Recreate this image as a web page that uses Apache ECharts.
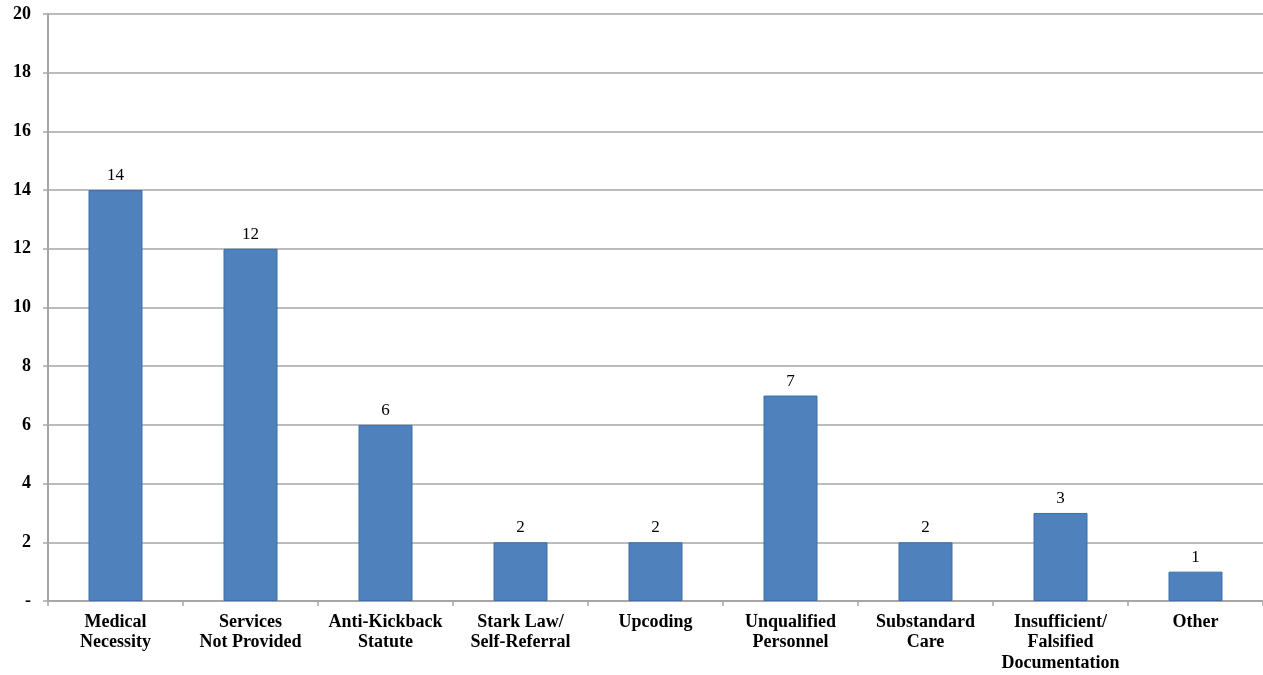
<!DOCTYPE html>
<html><head><meta charset="utf-8">
<script src="https://cdn.jsdelivr.net/npm/echarts@6/dist/echarts.min.js"></script>
<style>html,body{margin:0;padding:0;background:#fff}#c{width:1263px;height:675px}</style>
</head><body><div id="c"></div>
<script>
const categories = ["Medical\nNecessity","Services\nNot Provided","Anti-Kickback\nStatute","Stark Law/\nSelf-Referral","Upcoding","Unqualified\nPersonnel","Substandard\nCare","Insufficient/\nFalsified\nDocumentation","Other"];
const values = [14, 12, 6, 2, 2, 7, 2, 3, 1];
const chart = echarts.init(document.getElementById('c'));
const font = '"Liberation Serif", "Times New Roman", serif';
chart.setOption({
  animation: false,
  grid: {left: 48, right: 0, top: 14, bottom: 74, containLabel: false},
  xAxis: {
    type: 'category', data: categories,
    axisLine: {lineStyle: {color: '#a6a6a6', width: 2}},
    axisTick: {show: true, length: 5, lineStyle: {color: '#a6a6a6', width: 1.5}},
    axisLabel: {interval: 0, fontFamily: font, fontWeight: 'bold', fontSize: 18, color: '#000', lineHeight: 20.5, margin: 11}
  },
  yAxis: {
    type: 'value', min: 0, max: 20, interval: 2,
    axisLine: {show: true, lineStyle: {color: '#a6a6a6', width: 2}},
    axisTick: {show: true, length: 5, lineStyle: {color: '#a6a6a6', width: 1.5}},
    splitLine: {lineStyle: {color: '#a6a6a6', width: 1.5}},
    axisLabel: {fontFamily: font, fontWeight: 'bold', fontSize: 18, color: '#000', margin: 17,
      formatter: v => v === 0 ? '-' : String(v)}
  },
  series: [{
    type: 'bar', data: values, barWidth: '40%',
    itemStyle: {color: '#4f81bd', borderColor: '#3d6ea8', borderWidth: 1},
    label: {show: true, position: 'top', fontFamily: font, fontSize: 17, color: '#000', distance: 6}
  }]
});
</script></body></html>
